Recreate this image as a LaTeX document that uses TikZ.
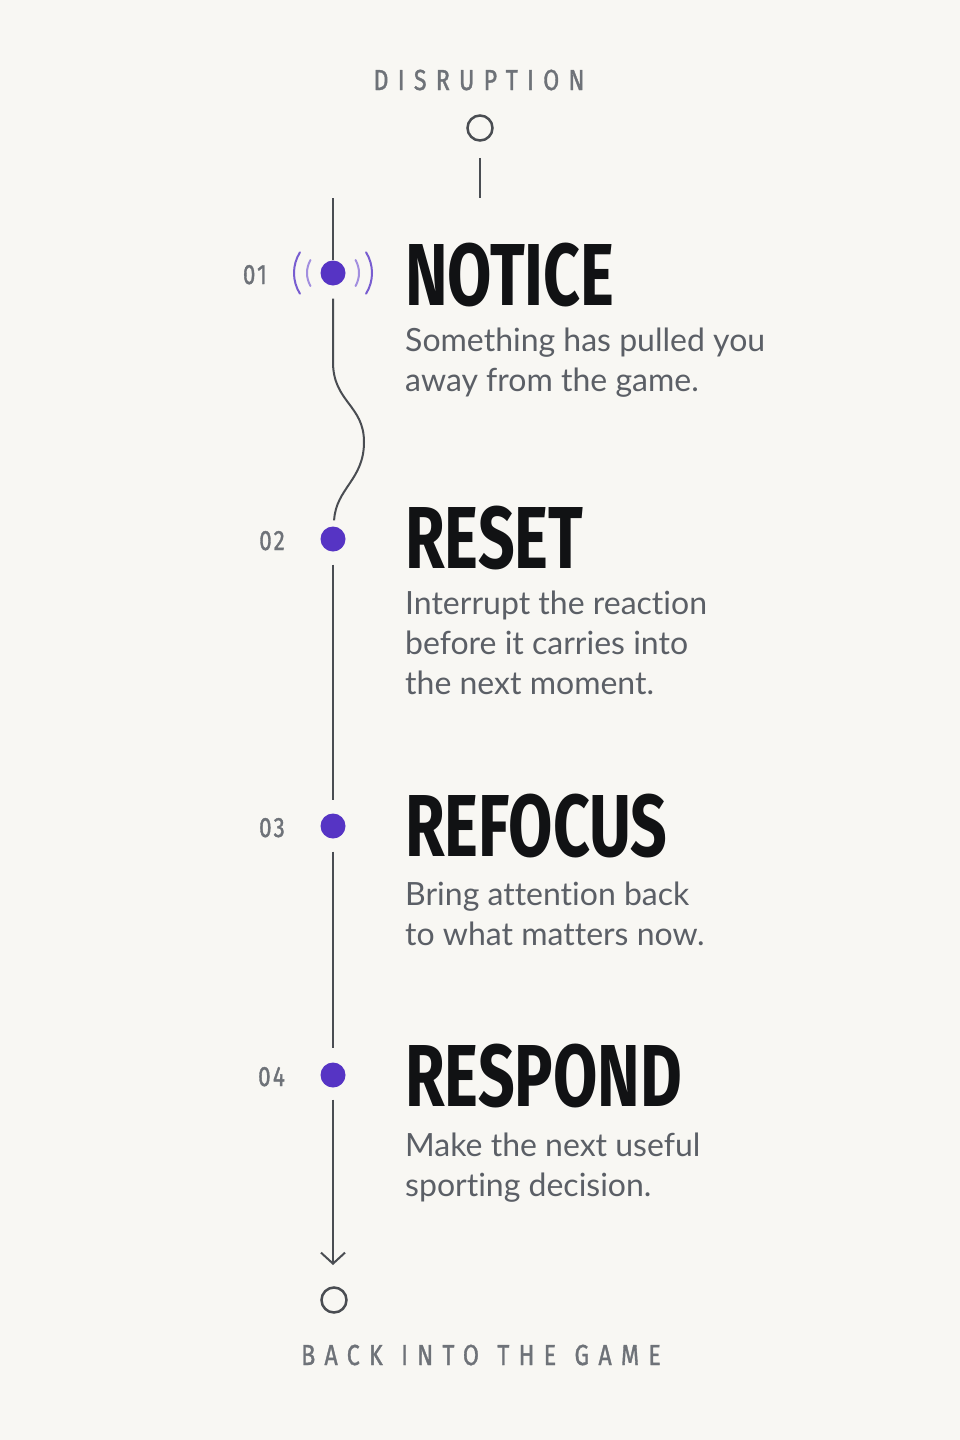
\documentclass[tikz,border=0pt]{standalone}
\usepackage{fontspec}
\setmainfont[Ligatures=NoCommon]{Lato}
\newfontfamily\headfont[FakeStretch=0.73]{Fira Sans Bold}
\newfontfamily\tagfont[FakeStretch=0.8,FakeBold=1.2,LetterSpace=32]{Fira Sans}
\newfontfamily\numfont[FakeStretch=0.8,FakeBold=1.2,LetterSpace=8]{Fira Sans}
\usetikzlibrary{arrows.meta}
\definecolor{bg}{HTML}{F8F7F3}
\definecolor{ink}{HTML}{4A4D52}
\definecolor{dotpurple}{HTML}{5634C4}
\definecolor{bodygrey}{HTML}{5B5F66}
\definecolor{taggrey}{HTML}{6E7278}
\definecolor{headink}{HTML}{111214}
\tikzset{
  line/.style={draw=ink,line width=2pt},
  dot/.style={circle,fill=dotpurple,minimum size=25pt,inner sep=0pt},
  ring/.style={circle,draw=ink,line width=2.5pt,minimum size=25pt,inner sep=0pt},
  wave/.style={line width=2pt,line cap=round},
  stepnum/.style={font=\numfont\fontsize{28}{28}\selectfont,text=taggrey,inner sep=0pt,anchor=base east},
  heading/.style={font=\headfont\fontsize{88}{88}\selectfont,text=headink,inner sep=0pt,anchor=base west},
  body/.style={font=\fontsize{32}{40}\selectfont,text=bodygrey,inner sep=0pt,anchor=north west,align=left},
  tag/.style={font=\tagfont\fontsize{29}{29}\selectfont,text=taggrey,inner sep=0pt,anchor=base},
}
\begin{document}
\begin{tikzpicture}[x=1pt,y=-1pt]
  \fill[bg] (0,0) rectangle (960,1440);
  \useasboundingbox (0,0) rectangle (960,1440);
  % top and bottom marks
  \node[tag] (disruption) at (479,90) {DISRUPTION};
  \node[ring] (start) at (480,128) {};
  \coordinate (s1) at (480,198);
  \draw[line,shorten <=16pt] (start) -- (s1);
  \node[tag] (back) at (481,1365) {BACK\hspace{3pt} INTO\hspace{3pt} THE\hspace{3pt} GAME};
  \node[ring] (finish) at (334,1300) {};
  % the steps
  \node[dot] (d1) at (333,273) {};
  \node[dot] (d2) at (333,539) {};
  \node[dot] (d3) at (333,826) {};
  \node[dot] (d4) at (333,1075) {};
  \coordinate (t1) at (333,198);
  \coordinate (a1) at (333,1265);
  \draw[line] (t1) -- (d1);
  \draw[line,shorten <=13pt,shorten >=6pt] (d1) -- (333,362)
     .. controls (333,402) and (364,405) .. (364,442)
     .. controls (364,480) and (336,488) .. (d2);
  \draw[line,shorten <=13pt,shorten >=13pt] (d2) -- (d3);
  \draw[line,shorten <=13pt,shorten >=14pt] (d3) -- (d4);
  \draw[line,shorten <=12pt,-{Straight Barb[length=11pt,width=24pt]}] (d4) -- (a1);
  % signal round the first dot
  \draw[wave,dotpurple!55] ([shift={(150:26pt)}]d1.center) arc[start angle=150,end angle=210,radius=26pt];
  \draw[wave,dotpurple!80] ([shift={(148:39pt)}]d1.center) arc[start angle=148,end angle=212,radius=39pt];
  \draw[wave,dotpurple!55] ([shift={(-30:26pt)}]d1.center) arc[start angle=-30,end angle=30,radius=26pt];
  \draw[wave,dotpurple!80] ([shift={(-32:39pt)}]d1.center) arc[start angle=-32,end angle=32,radius=39pt];
  \node[stepnum] (n1) at (267,284) {01};
  \node[stepnum] (n2) at (285,550) {02};
  \node[stepnum] (n3) at (285,837) {03};
  \node[stepnum] (n4) at (285,1086) {04};
  \node[heading] (notice) at (405,305) {NOTICE};
  \node[heading] (reset) at (405,568) {RESET};
  \node[heading] (refocus) at (405,856) {REFOCUS};
  \node[heading] (respond) at (405,1106) {RESPOND};
  \node[body] (b1) at (405,328) {Something has pulled you\\away from the game.};
  \node[body] (b2) at (405,591) {Interrupt the reaction\\before it carries into\\the next moment.};
  \node[body] (b3) at (405,882) {Bring attention back\\to what matters now.};
  \node[body] (b4) at (405,1133) {Make the next useful\\sporting decision.};
\end{tikzpicture}
\end{document}
